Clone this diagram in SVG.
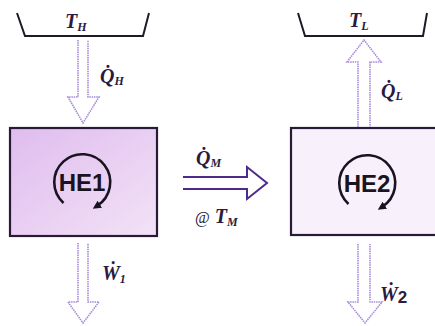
<svg xmlns="http://www.w3.org/2000/svg" width="435" height="326" viewBox="0 0 435 326">
<defs>
<style>
.res{fill:none;stroke:#1e1a28;stroke-width:2}
.box{stroke:#2a1a3a;stroke-width:2.2}
.flow{fill:none;stroke:#a88ad8;stroke-width:1.6;stroke-dasharray:1.5 0.8;stroke-linejoin:miter}
.mid{fill:none;stroke:#4e2a8c;stroke-width:2;stroke-linejoin:miter}
.cyc{fill:none;stroke:#1a1420;stroke-width:2.6}
.lbl{font-family:"Liberation Serif","Times New Roman",serif;font-style:italic;font-weight:bold;fill:#2a1a40;font-size:20px}
.sub{font-size:12px}
.he{font-family:"Liberation Sans",Arial,sans-serif;font-weight:bold;font-size:24px;fill:#1a1420;text-anchor:middle}
</style>
<linearGradient id="g1" x1="0" y1="0" x2="1" y2="1">
<stop offset="0" stop-color="#dfbcee"/>
<stop offset="0.6" stop-color="#ebd3f3"/>
<stop offset="1" stop-color="#f2e2f6"/>
</linearGradient>
<marker id="ah" viewBox="0 0 10 10" refX="4" refY="5" markerWidth="3.2" markerHeight="3.2" orient="auto" markerUnits="strokeWidth">
<path d="M0,0 L10,5 L0,10 z" fill="#1a1420"/>
</marker>
</defs>

<g id="reservoir-high">
<path class="res" d="M17,13 L25,36 L143,36 L149,13"/>
<text class="lbl" x="65" y="28">T<tspan class="sub" dy="3">H</tspan></text>
</g>

<g id="reservoir-low">
<path class="res" d="M298,13 L305,36 L423,36 L427,13"/>
<text class="lbl" x="349" y="27">T<tspan class="sub" dy="3">L</tspan></text>
</g>

<g id="HE1">
<rect class="box" x="10" y="128" width="147" height="108" fill="url(#g1)"/>
<path class="cyc" d="M63.5,203 A28,28 0 1 1 97,206" marker-end="url(#ah)"/>
<text class="he" x="82" y="191">HE1</text>
</g>

<g id="HE2">
<rect class="box" x="291" y="128" width="150" height="107" fill="#f8f0fa"/>
<path class="cyc" d="M348.5,204 A28,28 0 1 1 382,207" marker-end="url(#ah)"/>
<text class="he" x="367" y="192">HE2</text>
</g>

<g id="connectors">
<path class="flow" d="M78,40 L78,97 L68,97 L83,123 L99,97 L88,97 L88,40"/>
<path class="flow" d="M78,243 L78,302 L68,302 L83,323 L99,302 L88,302 L88,243"/>
<path class="flow" d="M358,127 L358,62 L347,62 L364,40 L381,62 L370,62 L370,127"/>
<path class="flow" d="M358,244 L358,302 L348,302 L365,323 L382,302 L370,302 L370,244"/>
<path class="mid" d="M183,177 L247,177 L247,167 L267,183 L247,199 L247,189 L183,189"/>
</g>

<g id="labels">
<text class="lbl" x="100" y="83">Q̇<tspan class="sub" dy="2">H</tspan></text>
<text class="lbl" x="381" y="98">Q̇<tspan class="sub" dy="2">L</tspan></text>
<text class="lbl" x="196" y="165">Q̇<tspan class="sub" dy="2">M</tspan></text>
<text class="lbl" x="195" y="223"><tspan font-style="normal" font-weight="normal" font-size="16">@</tspan> T<tspan class="sub" dy="3">M</tspan></text>
<text class="lbl" x="102" y="280">Ẇ<tspan class="sub" dy="3">1</tspan></text>
<text class="lbl" x="380" y="301">Ẇ<tspan font-family="Liberation Sans,Arial,sans-serif" font-style="normal" font-size="17" dy="2">2</tspan></text>
</g>
</svg>
